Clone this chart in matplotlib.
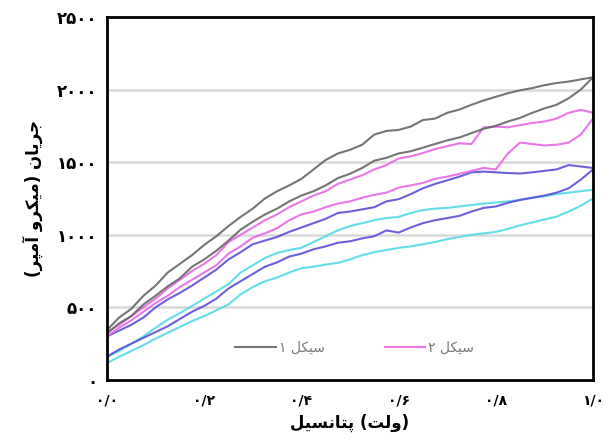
import numpy as np
import matplotlib
matplotlib.use("Agg")
import matplotlib.pyplot as plt

# ولتاژ اسکن (ولت) - نقاط مشترک برای همه منحنی‌ها
voltage = np.round(np.arange(0, 1.0001, 0.025), 3)

# سیکل ۱ (خاکستری): رفت و برگشت
gray_up = [344, 430, 490, 580, 650, 740, 800, 860, 930, 990, 1060, 1123, 1180, 1250,
           1300, 1340, 1385, 1450, 1515, 1560, 1585, 1620, 1690, 1715, 1722, 1745,
           1790, 1800, 1840, 1862, 1895, 1925, 1950, 1975, 1995, 2010, 2030, 2045,
           2055, 2070, 2085]
gray_low = [320, 390, 440, 520, 580, 645, 700, 780, 830, 890, 960, 1035, 1090, 1140,
            1180, 1230, 1270, 1300, 1340, 1390, 1420, 1460, 1510, 1530, 1560, 1575,
            1600, 1625, 1650, 1670, 1700, 1730, 1750, 1780, 1805, 1840, 1870, 1895,
            1940, 2000, 2085]

# سیکل ۲ (صورتی)
pink_up = [330, 380, 440, 500, 560, 630, 690, 750, 800, 860, 950, 1000, 1050, 1100,
           1140, 1190, 1230, 1270, 1300, 1350, 1380, 1410, 1450, 1480, 1525, 1540,
           1563, 1590, 1610, 1630, 1625, 1740, 1745, 1740, 1755, 1770, 1780, 1800,
           1840, 1860, 1840]
pink_low = [300, 360, 410, 470, 530, 580, 640, 690, 740, 790, 870, 920, 980, 1010,
            1045, 1100, 1140, 1160, 1190, 1215, 1230, 1255, 1275, 1290, 1325, 1340,
            1357, 1385, 1400, 1420, 1440, 1460, 1450, 1560, 1635, 1625, 1615, 1620,
            1635, 1690, 1800]

# سیکل ۳ (آبی)
blue_up = [300, 340, 380, 430, 500, 555, 600, 650, 705, 760, 830, 880, 935, 960,
           985, 1020, 1050, 1080, 1110, 1150, 1160, 1175, 1190, 1230, 1245, 1280,
           1320, 1350, 1375, 1400, 1430, 1435, 1430, 1425, 1422, 1430, 1440, 1450,
           1480, 1470, 1460]
blue_low = [160, 210, 250, 290, 330, 370, 420, 470, 510, 560, 630, 680, 730, 780,
            810, 850, 870, 900, 920, 945, 955, 975, 990, 1030, 1015, 1050, 1080, 1100,
            1115, 1130, 1160, 1185, 1195, 1220, 1240, 1255, 1270, 1290, 1320, 1380,
            1450]

# سیکل ۴ (فیروزه‌ای)
cyan_up = [160, 200, 250, 300, 360, 415, 460, 510, 560, 610, 660, 740, 790, 840, 875,
           895, 910, 950, 990, 1030, 1060, 1080, 1100, 1115, 1123, 1150, 1170, 1180,
           1185, 1195, 1205, 1215, 1222, 1230, 1240, 1255, 1265, 1280, 1290, 1300,
           1310]
cyan_low = [117, 160, 200, 240, 285, 325, 365, 405, 440, 480, 520, 590, 640, 680, 705,
            740, 770, 780, 795, 806, 830, 860, 880, 895, 910, 920, 935, 950, 970, 985,
            1000, 1010, 1020, 1040, 1065, 1085, 1105, 1125, 1160, 1200, 1250]

y_ticks = [0, 500, 1000, 1500, 2000, 2500]
x_ticks = [0.0, 0.2, 0.4, 0.6, 0.8, 1.0]

# شکل‌های حروف فارسی: (تنها، پایانی، آغازی، میانی)
FORMS = {
    'ا': ('\uFE8D', '\uFE8E', None, None),
    'آ': ('\uFE81', '\uFE82', None, None),
    'ر': ('\uFEAD', '\uFEAE', None, None),
    'و': ('\uFEED', '\uFEEE', None, None),
    'ت': ('\uFE95', '\uFE96', '\uFE97', '\uFE98'),
    'ج': ('\uFE9D', '\uFE9E', '\uFE9F', '\uFEA0'),
    'س': ('\uFEB1', '\uFEB2', '\uFEB3', '\uFEB4'),
    'ل': ('\uFEDD', '\uFEDE', '\uFEDF', '\uFEE0'),
    'م': ('\uFEE1', '\uFEE2', '\uFEE3', '\uFEE4'),
    'ن': ('\uFEE5', '\uFEE6', '\uFEE7', '\uFEE8'),
    'پ': ('\uFB56', '\uFB57', '\uFB58', '\uFB59'),
    'ک': ('\uFB8E', '\uFB8F', '\uFB90', '\uFB91'),
    'ی': ('\uFBFC', '\uFBFD', '\uFBFE', '\uFBFF'),
}
MIRROR = {'(': ')', ')': '('}


def farsi(text):
    out = []
    for i, ch in enumerate(text):
        if ch not in FORMS:
            out.append(MIRROR.get(ch, ch))
            continue
        prev = text[i - 1] if i > 0 else ''
        nxt = text[i + 1] if i + 1 < len(text) else ''
        iso, fin, ini, med = FORMS[ch]
        join_prev = prev in FORMS and FORMS[prev][2] is not None
        join_next = ini is not None and nxt in FORMS
        if join_prev and join_next:
            out.append(med)
        elif join_prev:
            out.append(fin)
        elif join_next:
            out.append(ini)
        else:
            out.append(iso)
    return ''.join(reversed(out))


PERSIAN_DIGITS = str.maketrans('0123456789', '۰۱۲۳۴۵۶۷۸۹')


def fa_num(s):
    return s.translate(PERSIAN_DIGITS)


plt.rcParams['font.family'] = ['DejaVu Sans']

fig = plt.figure(figsize=(6.03, 4.46), dpi=100)
ax = fig.add_axes([0.1774, 0.148, 0.806, 0.814])

for y in y_ticks[1:-1]:
    ax.axhline(y, color='#d9d9d9', lw=1.8, zorder=0)

loops = [
    (cyan_low, cyan_up, '#52dbe6', None),
    (blue_low, blue_up, '#5d4fd8', None),
    (pink_low, pink_up, '#e868e6', farsi('سیکل ۲')),
    (gray_low, gray_up, '#666666', farsi('سیکل ۱')),
]
handles = {}
for low, up, col, lab in loops:
    xs = np.concatenate([voltage, voltage[::-1]])
    ys = np.concatenate([low, up[::-1]])
    ln, = ax.plot(xs, ys, color=col, lw=1.5, alpha=0.9, solid_joinstyle='round')
    if lab:
        handles[lab] = ln

ax.set_xlim(0, 1.0)
ax.set_ylim(0, 2500)
ax.set_xticks(x_ticks)
ax.set_xticklabels([fa_num(f'{v:.1f}').replace('.', '/') for v in x_ticks],
                   fontweight='bold', fontsize=10)
ax.set_yticks(y_ticks)
ax.set_yticklabels([fa_num(str(v)) for v in y_ticks], fontweight='bold', fontsize=12)
ax.tick_params(length=0)
ax.tick_params(axis='y', pad=7)
ax.tick_params(axis='x', pad=10)

for s in ax.spines.values():
    s.set_linewidth(2)
    s.set_color('black')

ax.set_xlabel(farsi('پتانسیل') + ' (' + farsi('ولت') + ')',
              fontweight='bold', fontsize=12, labelpad=4)
ax.set_ylabel(farsi('جریان (میکرو آمپر)'), fontweight='bold', fontsize=12, labelpad=10)

gray_lab = farsi('سیکل ۱')
pink_lab = farsi('سیکل ۲')
leg = ax.legend([handles[gray_lab], handles[pink_lab]], [gray_lab, pink_lab],
                loc='center', bbox_to_anchor=(0.51, 0.088), ncol=2, frameon=False,
                fontsize=10, handlelength=2.9, columnspacing=4.3, handletextpad=0.25)
for t in leg.get_texts():
    t.set_color('#7a7a7a')

fig.savefig('out.png', dpi=100)
